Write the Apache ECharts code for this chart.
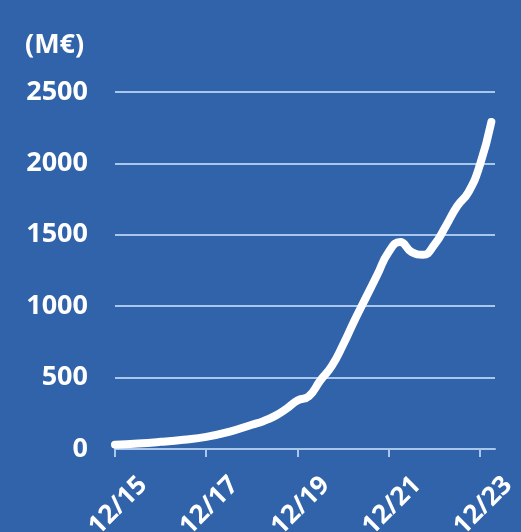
<!DOCTYPE html>
<html>
<head>
<meta charset="utf-8">
<script src="https://cdn.jsdelivr.net/npm/echarts@6/dist/echarts.min.js"></script>
<style>
html,body{margin:0;padding:0;background:#3063a9;}
#c{width:521px;height:532px;}
</style>
</head>
<body>
<div id="c"></div>
<script>
// Years elapsed since Dec 2015
const years = [0, 0.5, 1, 1.5, 2, 2.5, 3, 3.25, 3.5, 3.75, 4, 4.25, 4.5, 4.75, 5, 5.25, 5.5, 5.75, 6, 6.25, 6.5, 6.75, 7, 7.25, 7.5, 7.75, 8, 8.25];
// Values in M€
const values = [30, 38, 50, 65, 85, 120, 170, 195, 230, 280, 340, 370, 480, 580, 730, 900, 1060, 1220, 1380, 1450, 1380, 1360, 1430, 1560, 1700, 1800, 1990, 2290];
const xTickYears = [0, 2, 4, 6, 8];
const xTickLabels = ['12/15', '12/17', '12/19', '12/21', '12/23'];
const yTicks = [0, 500, 1000, 1500, 2000, 2500];
const unitLabel = '(M€)';

const chart = echarts.init(document.getElementById('c'));
const txt = { color: '#ffffff', fontFamily: 'Open Sans', fontWeight: 'bold', fontSize: 27 };
chart.setOption({
  backgroundColor: '#3063a9',
  animation: false,
  title: { text: unitLabel, left: 20, top: 27, textStyle: Object.assign({}, txt, { fontSize: 27 }) },
  grid: { left: 115, right: 26, top: 92, bottom: 83, outerBoundsMode: 'none', containLabel: false },
  xAxis: {
    type: 'value', min: 0, max: 8.33,
    splitLine: { show: false },
    axisLine: { show: true, lineStyle: { color: '#a9c6ec', width: 2 } },
    axisTick: { show: true, length: 8, customValues: xTickYears, lineStyle: { color: '#a9c6ec', width: 2 } },
    axisLabel: {
      customValues: xTickYears,
      formatter: v => { const i = xTickYears.indexOf(Math.round(v * 100) / 100); return i >= 0 ? xTickLabels[i] : ''; },
      rotate: 45, margin: 60, align: 'center', verticalAlign: 'middle', padding: [0, 0, 0, 9],
      color: '#ffffff', fontFamily: 'Open Sans', fontWeight: 'bold', fontSize: 26
    }
  },
  yAxis: {
    type: 'value', min: yTicks[0], max: yTicks[yTicks.length - 1], interval: 500,
    axisLine: { show: false }, axisTick: { show: false },
    splitLine: { show: true, lineStyle: { color: '#a9c6ec', width: 2 } },
    axisLabel: Object.assign({ margin: 27, formatter: v => String(v) }, txt)
  },
  series: [{
    type: 'line', smooth: true, symbol: 'none',
    lineStyle: { color: '#ffffff', width: 8, cap: 'round' },
    data: years.map((y, i) => [y, values[i]])
  }]
});
</script>
</body>
</html>
